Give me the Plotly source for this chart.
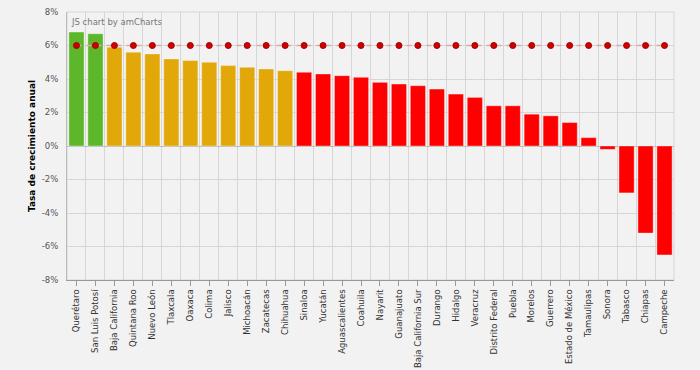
import plotly.graph_objects as go

states = ["Querétaro", "San Luis Potosí", "Baja California", "Quintana Roo", "Nuevo León",
          "Tlaxcala", "Oaxaca", "Colima", "Jalisco", "Michoacán", "Zacatecas", "Chihuahua",
          "Sinaloa", "Yucatán", "Aguascalientes", "Coahuila", "Nayarit", "Guanajuato",
          "Baja California Sur", "Durango", "Hidalgo", "Veracruz", "Distrito Federal",
          "Puebla", "Morelos", "Guerrero", "Estado de México", "Tamaulipas", "Sonora",
          "Tabasco", "Chiapas", "Campeche"]
growth = [6.8, 6.7, 5.9, 5.6, 5.5, 5.2, 5.1, 5.0, 4.8, 4.7, 4.6, 4.5,
          4.4, 4.3, 4.2, 4.1, 3.8, 3.7, 3.6, 3.4, 3.1, 2.9, 2.4,
          2.4, 1.9, 1.8, 1.4, 0.5, -0.2, -2.8, -5.2, -6.5]
colors = ["#5cb82a"] * 2 + ["#e2a80a"] * 10 + ["#ff0000"] * 20
target = [6.0] * len(states)
y_ticks = [-8, -6, -4, -2, 0, 2, 4, 6, 8]
y_labels = [f"{v}%" for v in y_ticks]

font = "DejaVu Sans, Verdana, sans-serif"
grid = "#d6d6d6"
n = len(states)
xrange_ = [-0.5, n - 0.5]

fig = go.Figure()
fig.add_trace(go.Bar(
    x=states, y=growth,
    marker=dict(color=colors, line=dict(color="rgba(255,255,255,0.35)", width=1)),
    width=0.8, xaxis="x", yaxis="y", showlegend=False, hoverinfo="x+y"))
fig.add_trace(go.Scatter(
    x=states, y=target, mode="lines+markers", xaxis="x2", yaxis="y",
    line=dict(color="#e0a8a8", width=1.5, dash="5px,5px"),
    marker=dict(color="#cc0000", size=6, line=dict(color="#a80000", width=1)),
    showlegend=False))

fig.update_layout(
    width=700, height=370,
    margin=dict(l=67, r=26, t=12, b=90),
    paper_bgcolor="#f2f2f2", plot_bgcolor="#f2f2f2",
    font=dict(family=font, size=8.5, color="#555"),
    xaxis=dict(type="category", range=xrange_, showgrid=False, tickangle=-90,
               ticks="outside", ticklen=5, tickcolor="#999", automargin=False,
               showline=True, linecolor="#999", linewidth=1,
               tickfont=dict(size=8.5, color="#333"), zeroline=False),
    xaxis2=dict(type="category", range=xrange_, overlaying="x", side="bottom",
                tickson="boundaries", showgrid=True, gridcolor=grid, gridwidth=1,
                automargin=False, showticklabels=False, ticks="", showline=False,
                zeroline=False),
    yaxis=dict(range=[-8, 8], tickvals=y_ticks, ticktext=y_labels, automargin=False,
               showgrid=True, gridcolor=grid, zeroline=True, zerolinecolor="#bdbdbd",
               zerolinewidth=1, showline=True, linecolor="#bbb",
               ticks="", ticklabelstandoff=6, tickfont=dict(size=8.5, color="#555"),
               title=dict(text="<b>Tasa de crecimiento anual</b>", standoff=4,
                          font=dict(size=9, color="#000"))),
    annotations=[dict(text="JS chart by amCharts", xref="paper", yref="paper",
                      x=0.004, y=0.99, xanchor="left", yanchor="top", showarrow=False,
                      font=dict(size=8.5, color="#777"))],
)
fig.add_shape(type="rect", xref="paper", yref="paper", x0=0, x1=1, y0=0, y1=1,
              line=dict(color=grid, width=1), layer="below")

fig.write_html("out.html", config={"displayModeBar": False},
               post_script="document.body.style.margin='0';")
